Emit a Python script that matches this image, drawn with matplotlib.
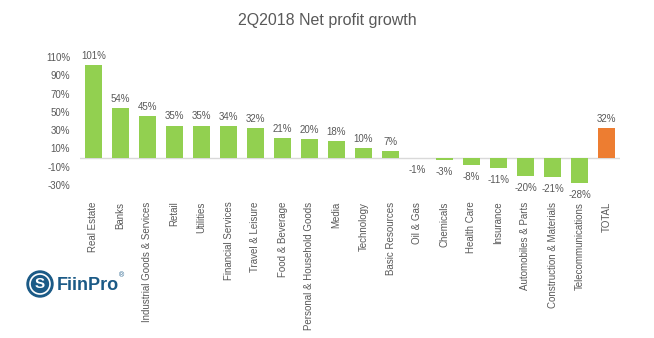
import matplotlib
matplotlib.use("Agg")
import matplotlib.pyplot as plt
from matplotlib.patches import Ellipse

plt.rcParams['font.family'] = ['Liberation Sans', 'DejaVu Sans']

categories = ["Real Estate", "Banks", "Industrial Goods & Services", "Retail", "Utilities",
              "Financial Services", "Travel & Leisure", "Food & Beverage",
              "Personal & Household Goods", "Media", "Technology", "Basic Resources",
              "Oil & Gas", "Chemicals", "Health Care", "Insurance", "Automobiles & Parts",
              "Construction & Materials", "Telecommunications", "TOTAL"]
values = [101, 54, 45, 35, 35, 34, 32, 21, 20, 18, 10, 7, -1, -3, -8, -11, -20, -21, -28, 32]
yticks = [110, 90, 70, 50, 30, 10, -10, -30]

green = "#92D050"
orange = "#ED7D31"
gray = "#595959"

fig = plt.figure(figsize=(6.54, 3.38), dpi=100)
ax = fig.add_axes([80/654, 1-185/338, 540/654, 128/338])
x = list(range(len(categories)))
colors = [orange if c == "TOTAL" else green for c in categories]
ax.bar(x, values, width=0.6, color=colors, zorder=2)
ax.axhline(0, color="#D9D9D9", lw=1, zorder=1)
ax.set_xlim(-0.5, len(categories) - 0.5)
ax.set_ylim(-30, 110)
ax.set_yticks(yticks)
ax.set_yticklabels([f"{t}%" for t in yticks], fontsize=7, color=gray)
ax.tick_params(axis="y", length=0, pad=7)
ax.set_xticks(x)
ax.set_xticklabels(categories, rotation=90, fontsize=7, color=gray, va="top")
ax.tick_params(axis="x", length=0, pad=12)
for s in ax.spines.values():
    s.set_visible(False)
for xi, v in zip(x, values):
    if v >= 0:
        ax.annotate(f"{v}%", (xi, v), xytext=(0, 3), textcoords="offset points",
                    ha="center", va="bottom", fontsize=7, color=gray)
    else:
        ax.annotate(f"{v}%", (xi, v), xytext=(0, -5), textcoords="offset points",
                    ha="center", va="top", fontsize=7, color=gray)

fig.text(0.5, 1-20/338, "2Q2018 Net profit growth", ha="center", va="center",
         fontsize=11.5, color=gray)

# Logo
logo_blue = "#1B5A86"
cx, cy = 40/654, 1-284/338
fig.patches.append(Ellipse((cx, cy), 26/654, 26/338, transform=fig.transFigure,
                           color=logo_blue, zorder=5))
fig.patches.append(Ellipse((cx, cy), 20/654, 20/338, transform=fig.transFigure,
                           fill=False, edgecolor="white", lw=1.2, zorder=6))
fig.text(cx, cy, "S", ha="center", va="center", fontsize=11, color="white",
         fontweight="bold", zorder=7)
fig.text(57/654, 1-285/338, "FiinPro", ha="left", va="center", fontsize=13,
         color=logo_blue, fontweight="bold")
fig.text(119/654, 1-276/338, "®", ha="left", va="center", fontsize=5, color=logo_blue)

fig.savefig("out.png", dpi=100, facecolor="white")
